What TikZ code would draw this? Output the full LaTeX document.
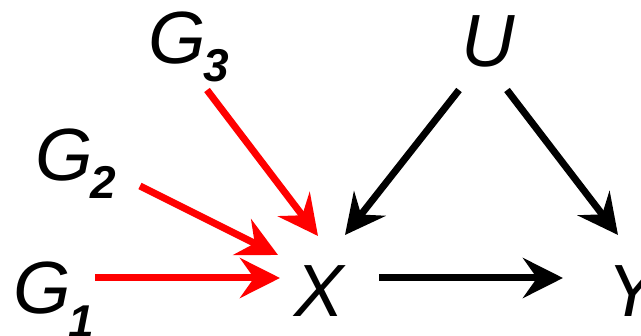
\documentclass[tikz,border=0pt]{standalone}
\usepackage{fontspec}
\setmainfont{Liberation Sans}
\usetikzlibrary{arrows.meta}
\begin{document}
\begin{tikzpicture}[x=1pt,y=-1pt,
  lbl/.style={inner sep=0pt,anchor=base,font=\fontsize{74}{74}\selectfont\itshape},
  sub/.style={inner sep=0pt,anchor=base,font=\fontsize{46}{46}\selectfont\bfseries\itshape},
  arr/.style={line width=7pt,-{Stealth[length=40pt,width=40pt,inset=14pt]}},
  redarr/.style={arr,draw=red,color=red}]
\fill[white] (0,0) rectangle (641,336);
\useasboundingbox (0,0) rectangle (641,336);
\node[lbl] (U) at (488,67) {U};
\node[lbl] (X) at (319,317) {X};
\node[lbl] (Y) at (632,317) {Y};
\node[lbl] (G1) at (42,314) {G};
\node[sub] (G1s) at (81,338) {1};
\node[lbl] (G2) at (64,181) {G};
\node[sub] (G2s) at (103,199) {2};
\node[lbl] (G3) at (177,64) {G};
\node[sub] (G3s) at (216,82) {3};
\draw[redarr] ([shift={(-9,8)}]G3s.base) -- ([shift={(-1,-81)}]X.base);
\draw[redarr] ([shift={(37,-13)}]G2s.base) -- ([shift={(-41,-62)}]X.base);
\draw[redarr] ([shift={(53,-36)}]G1.base) -- ([shift={(-39,-39)}]X.base);
\draw[arr] ([shift={(-29,23)}]U.base) -- ([shift={(26,-82)}]X.base);
\draw[arr] ([shift={(19,23)}]U.base) -- ([shift={(-14,-82)}]Y.base);
\draw[arr] ([shift={(60,-39)}]X.base) -- ([shift={(-69,-39)}]Y.base);
\end{tikzpicture}
\end{document}
